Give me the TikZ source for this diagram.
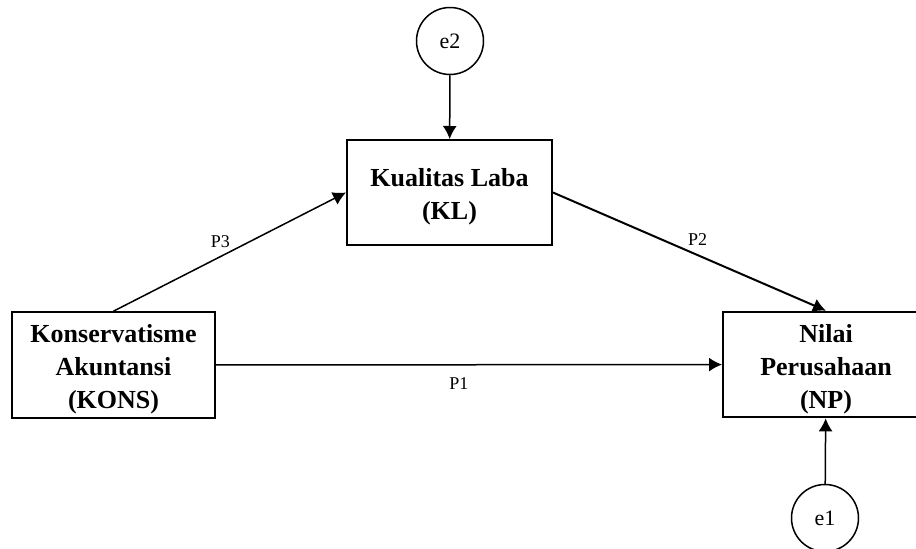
\documentclass[tikz,border=0pt]{standalone}
\usepackage{fontspec}
\setmainfont{Liberation Serif}
\usetikzlibrary{arrows.meta,positioning}
\newcommand{\boxtext}[1]{\raisebox{-4pt}[\height][\depth]{\begin{tabular}{@{}c@{}}#1\end{tabular}}}

\begin{document}
\begin{tikzpicture}[x=1pt, y=-1pt, >={Latex[length=13pt,width=14pt]}, line width=1.5pt,
  var/.style={draw, line width=2pt, rectangle, minimum width=205pt, minimum height=105pt,
    font=\fontsize{26}{33}\selectfont\bfseries},
  err/.style={draw, circle, minimum size=67pt, inner sep=0pt, font=\fontsize{22}{26}\selectfont},
  lbl/.style={font=\fontsize{18}{22}\selectfont}]
\useasboundingbox (0,0) rectangle (916,549);
\node[var] (KL) at (449.5,192.5) {\boxtext{Kualitas Laba\\(KL)}};
\node[var, minimum width=203pt, minimum height=104pt] (KONS) at (113.5,365) {\boxtext{Konservatisme\\Akuntansi\\(KONS)}};
\node[var, minimum width=206pt] (NP) at (826,364.5) {\boxtext{Nilai\\Perusahaan\\(NP)}};
\node[err] (e2) at (450,41) {e2};
\node[err] (e1) at (825,518) {e1};
% paths
\draw[->] (e2) -- (KL);
\draw[->] (e1) -- (NP);
\draw[->] (KONS.north) -- node[lbl, pos=0.46, above=5pt] {P3} (KL.west);
\draw[->, line width=2pt] (KL.east) -- node[lbl, pos=0.53, above=5pt] {P2} (NP.north);
\draw[->] (KONS) -- node[lbl, pos=0.48, below=9pt] {P1} (NP);
\end{tikzpicture}
\end{document}
